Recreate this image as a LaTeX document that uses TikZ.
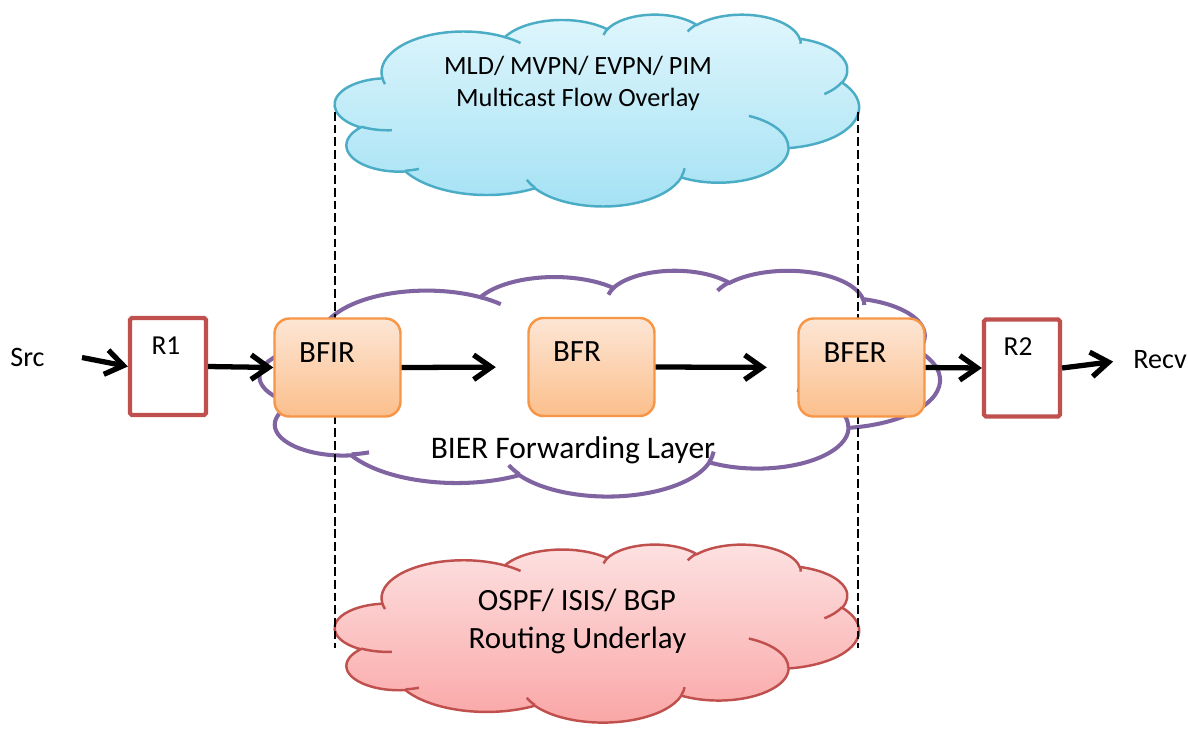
\documentclass[tikz,border=0pt]{standalone}
\usepackage{fontspec}
\setmainfont{Carlito}
\usepackage{xcolor}
\usetikzlibrary{arrows.meta}

\definecolor{ovlline}{HTML}{4BACC6}
\definecolor{ovltop}{HTML}{E0F6FC}
\definecolor{ovlbot}{HTML}{A3E1F4}
\definecolor{udlline}{HTML}{C0504D}
\definecolor{udltop}{HTML}{FDE2E2}
\definecolor{udlbot}{HTML}{FAA5A5}
\definecolor{bierline}{HTML}{8064A2}
\definecolor{bfline}{HTML}{F79646}
\definecolor{bftop}{HTML}{FDE6D5}
\definecolor{bfbot}{HTML}{FBBF8C}
\definecolor{rline}{HTML}{C0504D}

\tikzset{
  cldarc/.style n args={4}{insert path={arc[x radius=#1,y radius=#2,
      start angle={atan2(#1*sin(#3),#2*cos(#3))},
      delta angle={mod(atan2(#1*sin(#3+#4),#2*cos(#3+#4))-atan2(#1*sin(#3),#2*cos(#3))+720,360)}]}},
  flow/.style={line width=3pt,-{Straight Barb[length=10pt,width=14pt]}},
  guide/.style={line width=1.4pt,dash pattern=on 5pt off 2.2pt},
  bfbox/.style={draw=bfline,line width=1.4pt,rounded corners=8.5pt,top color=bftop,bottom color=bfbot,
    minimum width=2.52cm,minimum height=1.96cm,inner sep=0pt},
  rbox/.style={draw=rline,line width=2.4pt,fill=white,rounded corners=1pt,
    minimum width=1.52cm,minimum height=1.94cm,inner sep=0pt},
  bftxt/.style={font=\fontsize{17.6}{21}\selectfont,inner sep=0pt,anchor=base},
  rtxt/.style={font=\fontsize{15.6}{19}\selectfont,inner sep=0pt,anchor=base},
  endtxt/.style={font=\fontsize{16}{19}\selectfont,inner sep=0pt,anchor=base},
  ovltxt/.style={font=\fontsize{15}{18}\selectfont,inner sep=0pt,anchor=base},
  udltxt/.style={font=\fontsize{17.6}{21}\selectfont,inner sep=0pt,anchor=base},
  biertxt/.style={font=\fontsize{17.9}{21}\selectfont,inner sep=0pt,anchor=base},
}

\newcommand{\drawcloud}[6]{%
  \begin{scope}[shift={(#1,#2)}]
    \pgfmathsetmacro\cldx{#3*0.02/432}
    \pgfmathsetmacro\cldy{#4*0.02/432}
    \begin{scope}[x=\cldx cm,y=-\cldy cm]
      \path[#5] (39,143.7)
        [cldarc={67.53}{91.90}{-190.4875}{123.7805}]
        [cldarc={53.33}{72.67}{-144.1024}{89.9452}]
        [cldarc={43.65}{59.45}{-145.8079}{99.7230}]
        [cldarc={48.57}{65.95}{-130.9861}{117.2417}]
        [cldarc={53.33}{72.73}{-78.7089}{109.0269}]
        [cldarc={67.75}{92.20}{-46.2673}{130.2690}]
        [cldarc={57.85}{78.67}{0.6250}{114.0333}]
        [cldarc={67.52}{92.15}{22.4516}{115.1726}]
        [cldarc={77.20}{105.43}{66.2426}{75.7110}]
        [cldarc={43.60}{59.18}{-274.9421}{146.7356}]
        [cldarc={43.45}{59.45}{-246.8285}{152.5189}] -- cycle;
      \draw[#6]
        (46.93,261.77) [cldarc={43.45}{59.45}{86.7420}{26.4295}]
        (69.28,348.99) [cldarc={43.60}{59.18}{73.6105}{11.4475}]
        (164.78,390.90) [cldarc={67.52}{92.15}{137.6242}{14.0811}]
        (288.27,347.51) [cldarc={67.52}{92.15}{6.4533}{15.9984}]
        (341.29,229.54) [cldarc={57.85}{78.67}{-70.2924}{70.9174}]
        (417.98,153.54) [cldarc={53.33}{72.73}{30.3180}{27.7515}]
        (383.24,54.26) [cldarc={48.57}{65.95}{-13.7443}{14.8589}]
        (290.78,39.52) [cldarc={48.57}{65.95}{-149.1815}{18.1954}]
        (221.41,47.20) [cldarc={43.65}{59.45}{-163.4943}{17.6864}]
        (140.00,51.92) [cldarc={67.53}{91.90}{-66.7070}{12.3194}]
        (41.27,157.89) [cldarc={67.53}{91.90}{157.6544}{11.8582}];
    \end{scope}
  \end{scope}}

\begin{document}
\begin{tikzpicture}[x=0.02cm,y=-0.02cm]
  \fill[white] (0,0) rectangle (1188,728);
  \useasboundingbox (0,0) rectangle (1188,728);

  \drawcloud{335}{14}{524}{192}{draw=ovlline,line width=1.4pt,top color=ovltop,bottom color=ovlbot}{draw=ovlline,line width=1.4pt}
  \drawcloud{335}{544}{524}{178}{draw=udlline,line width=1.4pt,top color=udltop,bottom color=udlbot}{draw=udlline,line width=1.4pt}
  \drawcloud{260}{270}{680}{226}{draw=bierline,line width=2.3pt}{draw=bierline,line width=2.3pt}

  \draw[guide] (335,112) -- (335,648);
  \draw[guide] (858,112) -- (858,648);

  \node[ovltxt] (ovl1) at (578,74) {MLD/ MVPN/ EVPN/ PIM};
  \node[ovltxt] (ovl2) at (578,106.5) {Multicast Flow Overlay};
  \node[udltxt] (udl1) at (577,610) {OSPF/ ISIS/ BGP};
  \node[udltxt] (udl2) at (577.5,648) {Routing Underlay};
  \node[biertxt] (bier) at (573,458) {BIER Forwarding Layer};

  \node[rbox] (r1) at (168,366.5) {};
  \node[rbox] (r2) at (1022,368) {};
  \node[bfbox] (bfir) at (337.5,367.5) {};
  \node[bfbox] (bfr) at (591.5,367) {};
  \node[bfbox] (bfer) at (861.5,367.5) {};

  \node[rtxt] (r1lbl) at (166,354) {R1};
  \node[rtxt] (r2lbl) at (1018,355) {R2};
  \node[bftxt] (bfirlbl) at (327,362) {BFIR};
  \node[bftxt] (bfrlbl) at (577,361) {BFR};
  \node[bftxt] (bferlbl) at (855,362) {BFER};
  \node[endtxt] (src) at (27.5,366.5) {Src};
  \node[endtxt] (recv) at (1160,368) {Recv};

  \coordinate (srcend) at (82,357.5);
  \draw[flow] (srcend) -- (r1.west);
  \draw[flow] (r1.east) -- (bfir.west);
  \draw[flow,shorten >=0.63cm] (bfir.east) -- (bfr.west);
  \draw[flow,shorten >=0.61cm] (bfr.east) -- (bfer.west);
  \draw[flow] (bfer.east) -- (r2.west);
  \draw[flow,shorten >=0.4cm] (r2.east) -- (recv.west);
\end{tikzpicture}
\end{document}
